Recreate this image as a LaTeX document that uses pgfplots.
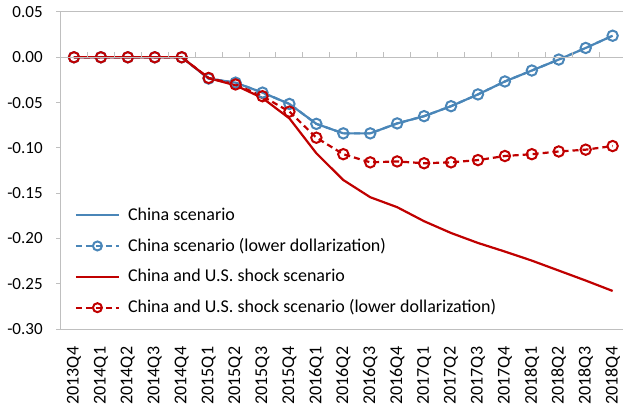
\documentclass[border=0pt]{standalone}
\usepackage{pgfplots}
\pgfplotsset{compat=1.18}
\usepackage{fontspec}
\setmainfont{Carlito}
\definecolor{cblue}{HTML}{4A86B8}
\definecolor{cred}{HTML}{C00000}
\definecolor{cgrid}{HTML}{BFBFBF}
\pgfplotsset{
  leglineplain/.style={legend image code/.code={\draw[##1, line width=2.2bp] (0bp,0bp) -- (43bp,0bp); \path (49bp,0bp);}},
  leglinemark/.style={legend image code/.code={\draw[##1, line width=2bp, mark size=4.5bp, mark repeat=2, mark phase=2] plot coordinates {(0bp,0bp) (21.5bp,0bp) (43bp,0bp)}; \path (49bp,0bp);}},
}
\newcommand\fs{\fontsize{17bp}{20bp}\selectfont}
\newcommand\fl{\fontsize{18bp}{21bp}\selectfont}
\begin{document}
\fs
\begin{tikzpicture}
\useasboundingbox (-60.5bp,-76bp) rectangle (562.5bp,329bp);
\begin{axis}[
  scale only axis,
  width=565.6bp, height=317bp,
  xmin=-0.5, xmax=20.5,
  ymin=-0.30, ymax=0.05,
  ytick={-0.30,-0.25,-0.20,-0.15,-0.10,-0.05,0,0.05},
  xtick={0,...,20},
  xticklabels={2013Q4,2014Q1,2014Q2,2014Q3,2014Q4,2015Q1,2015Q2,2015Q3,2015Q4,2016Q1,2016Q2,2016Q3,2016Q4,2017Q1,2017Q2,2017Q3,2017Q4,2018Q1,2018Q2,2018Q3,2018Q4},
  xticklabel style={yshift=-8bp, rotate=90, anchor=east, font=\fl},
  yticklabel style={font=\fs, xshift=-8bp},
  /pgf/number format/fixed,
  /pgf/number format/fixed zerofill,
  /pgf/number format/precision=2,
  /pgf/number format/assume math mode=true,
  axis line style={cgrid, line width=1bp},
  xtick style={draw=none},
  ytick style={cgrid, line width=1bp},
  ytick pos=left,
  tick align=outside,
  major tick length=4bp,
  clip=false,
  legend style={at={(rel axis cs:0.025,0.39)}, anchor=north west, draw=none, fill=none,
    font=\fl, row sep=11.5bp, inner sep=0pt},
  legend cell align=left,
]
\addplot[cblue, line width=2.2bp, no markers, leglineplain]
coordinates {(0,0) (1,0) (2,0) (3,0) (4,0) (5,-0.0235) (6,-0.0280) (7,-0.0390) (8,-0.0515) (9,-0.0735) (10,-0.0840) (11,-0.0840) (12,-0.0730) (13,-0.0650) (14,-0.0540) (15,-0.0410) (16,-0.0267) (17,-0.0146) (18,-0.0025) (19,0.0103) (20,0.0238)};
\addlegendentry{China scenario}

\addplot[cblue, line width=2.2bp, dash pattern=on 6bp off 4bp, mark=o, mark size=5.2bp,
  mark options={solid, fill=white, line width=2bp}, leglinemark]
coordinates {(0,0) (1,0) (2,0) (3,0) (4,0) (5,-0.0235) (6,-0.0280) (7,-0.0390) (8,-0.0515) (9,-0.0735) (10,-0.0840) (11,-0.0840) (12,-0.0730) (13,-0.0650) (14,-0.0540) (15,-0.0410) (16,-0.0267) (17,-0.0146) (18,-0.0025) (19,0.0103) (20,0.0238)};
\addlegendentry{China scenario (lower dollarization)}

\addplot[cred, line width=2.2bp, no markers, leglineplain]
coordinates {(0,0) (1,0) (2,0) (3,0) (4,0) (5,-0.0230) (6,-0.0310) (7,-0.0450) (8,-0.0675) (9,-0.1060) (10,-0.1355) (11,-0.1545) (12,-0.1655) (13,-0.1810) (14,-0.1940) (15,-0.2050) (16,-0.2145) (17,-0.2245) (18,-0.2355) (19,-0.2465) (20,-0.2580)};
\addlegendentry{China and U.S. shock scenario}

\addplot[cred, line width=2.2bp, dash pattern=on 6bp off 4bp, mark=o, mark size=5.2bp,
  mark options={solid, line width=2bp}, leglinemark]
coordinates {(0,0) (1,0) (2,0) (3,0) (4,0) (5,-0.0228) (6,-0.0300) (7,-0.0430) (8,-0.0600) (9,-0.0888) (10,-0.1070) (11,-0.1160) (12,-0.1150) (13,-0.1170) (14,-0.1160) (15,-0.1135) (16,-0.1090) (17,-0.1070) (18,-0.1040) (19,-0.1020) (20,-0.0980)};
\addlegendentry{China and U.S. shock scenario (lower dollarization)}
\end{axis}
% zero line with boundary tick marks
\begin{axis}[
  scale only axis,
  width=565.6bp, height=317bp,
  xmin=-0.5, xmax=20.5,
  ymin=-0.30, ymax=0.05,
  axis x line=middle, axis y line=none,
  axis line style={cgrid, line width=1bp, -},
  xtick={0.5,1.5,2.5,3.5,4.5,5.5,6.5,7.5,8.5,9.5,10.5,11.5,12.5,13.5,14.5,15.5,16.5,17.5,18.5,19.5},
  xticklabels={},
  xtick style={cgrid, line width=1bp},
  xtick align=inside,
  major tick length=5bp,
  ytick=\empty,
]
\end{axis}
\end{tikzpicture}
\end{document}
